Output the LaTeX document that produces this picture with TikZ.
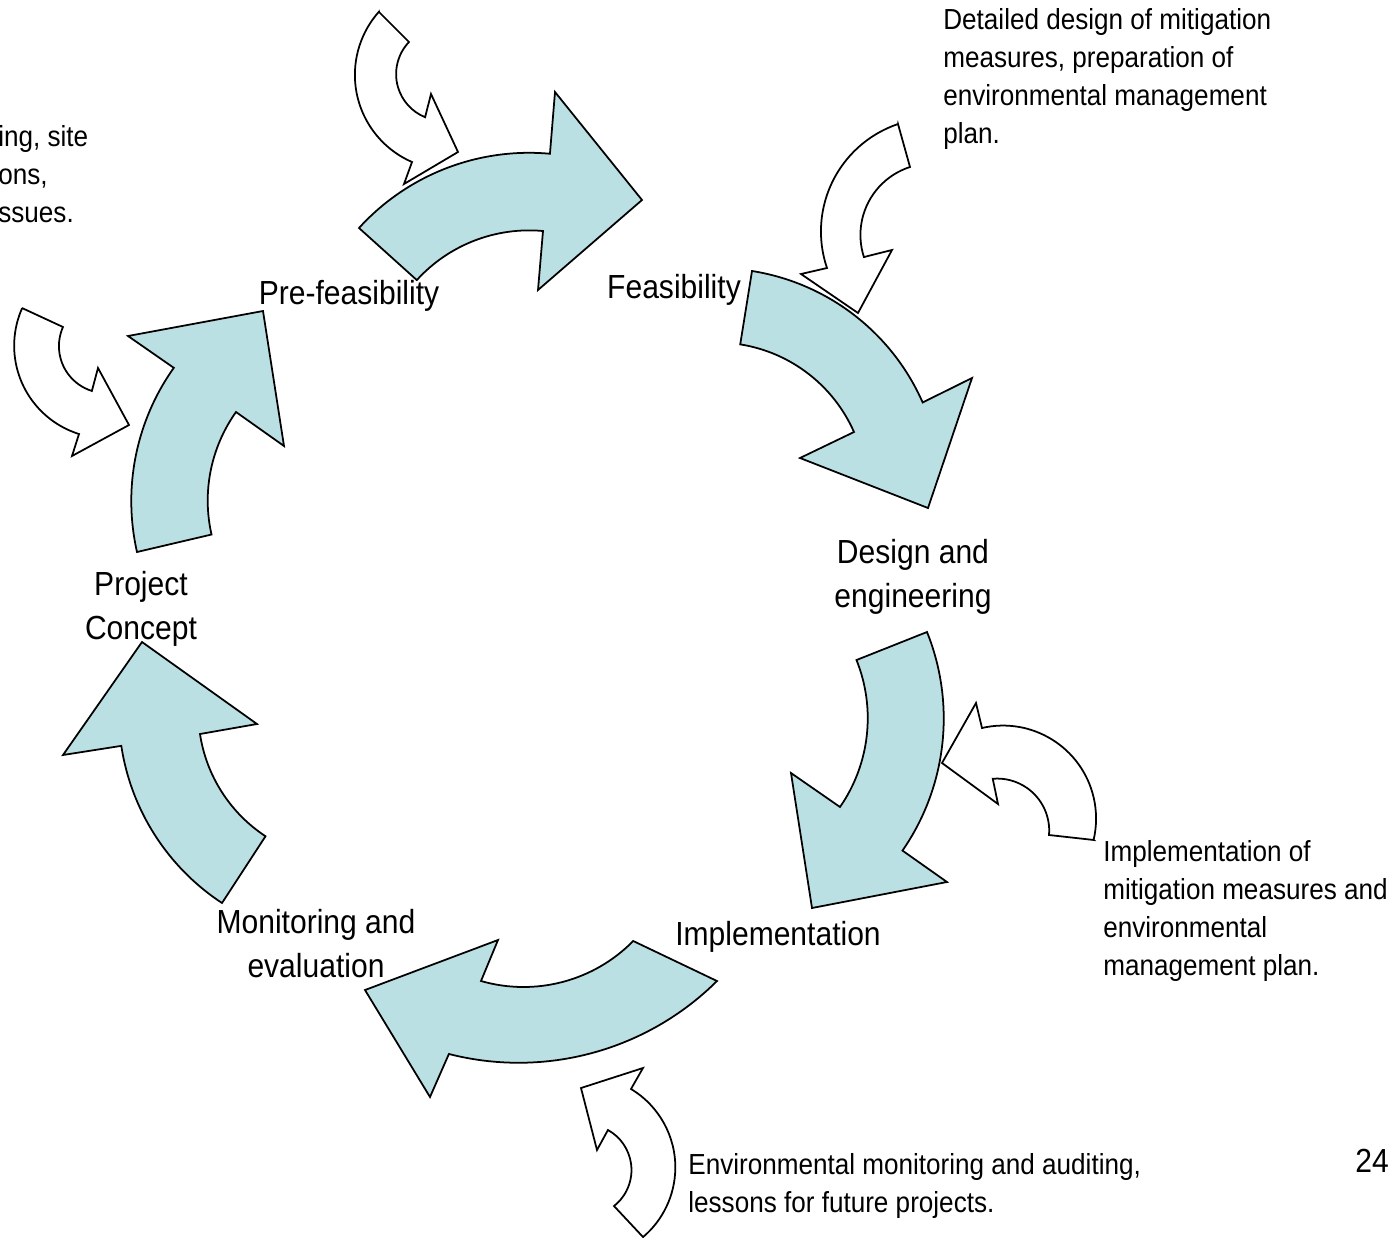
\documentclass[tikz,border=0pt]{standalone}
\usepackage{fontspec}
\setmainfont[FakeStretch=0.9]{Liberation Sans}
\usepackage{tikz}
\definecolor{cyclefill}{RGB}{187,224,227}

\begin{document}
\begin{tikzpicture}[x=0.2mm,y=-0.2mm,
  cyclearrow/.style={draw,line width=1pt,fill=cyclefill},
  inputarrow/.style={draw,line width=1pt,fill=white},
  stage/.style={font=\fontsize{19}{25}\selectfont,align=center,inner sep=0pt},
  note/.style={font=\fontsize{16.5}{21.8}\selectfont,align=left,anchor=west,inner sep=0pt}]
\useasboundingbox (0,0) rectangle (1394,1238);
% the project cycle
\draw[cyclearrow] (359,228) arc[start angle=-137.7,end angle=-84.8,radius=230]
  -- (555,92) -- (642,200) -- (538,290) -- (543,231)
  arc[start angle=-84.8,end angle=-137.7,radius=152] -- cycle;
\draw[cyclearrow] (752,271) arc[start angle=-81,end angle=-23.8,radius=225]
  -- (972,378) -- (928,508) -- (800,458) -- (854,432)
  arc[start angle=-23.8,end angle=-81,radius=150] -- cycle;
\draw[cyclearrow] (927,632) arc[start angle=-21.9,end angle=34.7,radius=232]
  -- (947,882) -- (812,908) -- (791,773) -- (840,807)
  arc[start angle=34.7,end angle=-21.9,radius=156] -- cycle;
\draw[cyclearrow] (717,981) arc[start angle=45.2,end angle=104.35,radius=281.5]
  -- (430,1097) -- (365,990) -- (498,940) -- (481,981)
  arc[start angle=106.05,end angle=44.5,radius=153.8] -- cycle;
\draw[cyclearrow] (222,903) arc[start angle=123.3,end angle=171.4,radius=229]
  -- (63,755) -- (142,642) -- (257,724) -- (200,734)
  arc[start angle=171.4,end angle=123.3,radius=149] -- cycle;
\draw[cyclearrow] (137,552) arc[start angle=167.2,end angle=215.4,radius=230]
  -- (128,336) -- (263,311) -- (284,446) -- (236,412)
  arc[start angle=215.4,end angle=167.2,radius=153] -- cycle;
% inputs to the stages
\draw[inputarrow] (22,308) -- (63,327) arc[start angle=204,end angle=107.4,radius=47]
  -- (98,368) -- (129,425) -- (72,456) -- (79,434)
  arc[start angle=107.4,end angle=204,radius=92.5] -- cycle;
\draw[inputarrow] (379,12) -- (409,42) arc[start angle=-136.3,end angle=-247.9,radius=46.5]
  -- (431,94) -- (458,152) -- (404,184) -- (412,162)
  arc[start angle=113.5,end angle=221.7,radius=95] -- cycle;
\draw[inputarrow] (898,124) -- (910,167) arc[start angle=252.2,end angle=162,radius=71.4]
  -- (892,250) -- (858,313) -- (801,274) -- (827,268)
  arc[start angle=161.2,end angle=251.3,radius=113.4] -- cycle;
\draw[inputarrow] (1094,840) -- (1049,835) arc[start angle=4.9,end angle=-94.9,radius=52]
  -- (998,804) -- (942,763) -- (976,703) -- (982,728)
  arc[start angle=-103.1,end angle=13.1,radius=93] -- cycle;
\draw[inputarrow] (643,1237) -- (614,1206) arc[start angle=51.8,end angle=-60.9,radius=45.8]
  -- (597,1150) -- (581,1088) -- (643,1068) -- (631,1089)
  arc[start angle=-59,end angle=49.7,radius=91.4] -- cycle;
% stage names
\node[stage] (prefeas) at (349,296) {Pre-feasibility};
\node[stage] (feas) at (674,290) {Feasibility};
\node[stage] (design) at (913,577) {Design and\\engineering};
\node[stage] (impl) at (778,937) {Implementation};
\node[stage] (monitor) at (316,944) {Monitoring and\\evaluation};
\node[stage] (concept) at (141,609) {Project\\Concept};
% notes
\node[note] (screen) at (-2,174) {ing, site\\ons,\\ssues.};
\node[note] (detail) at (943,79) {Detailed design of mitigation\\measures, preparation of\\environmental management\\plan.};
\node[note] (implnote) at (1103,911) {Implementation of\\mitigation measures and\\environmental\\management plan.};
\node[note] (monnote) at (688,1186) {Environmental monitoring and auditing,\\lessons for future projects.};
\node[stage] (page) at (1372,1161) {24};
\end{tikzpicture}
\end{document}
